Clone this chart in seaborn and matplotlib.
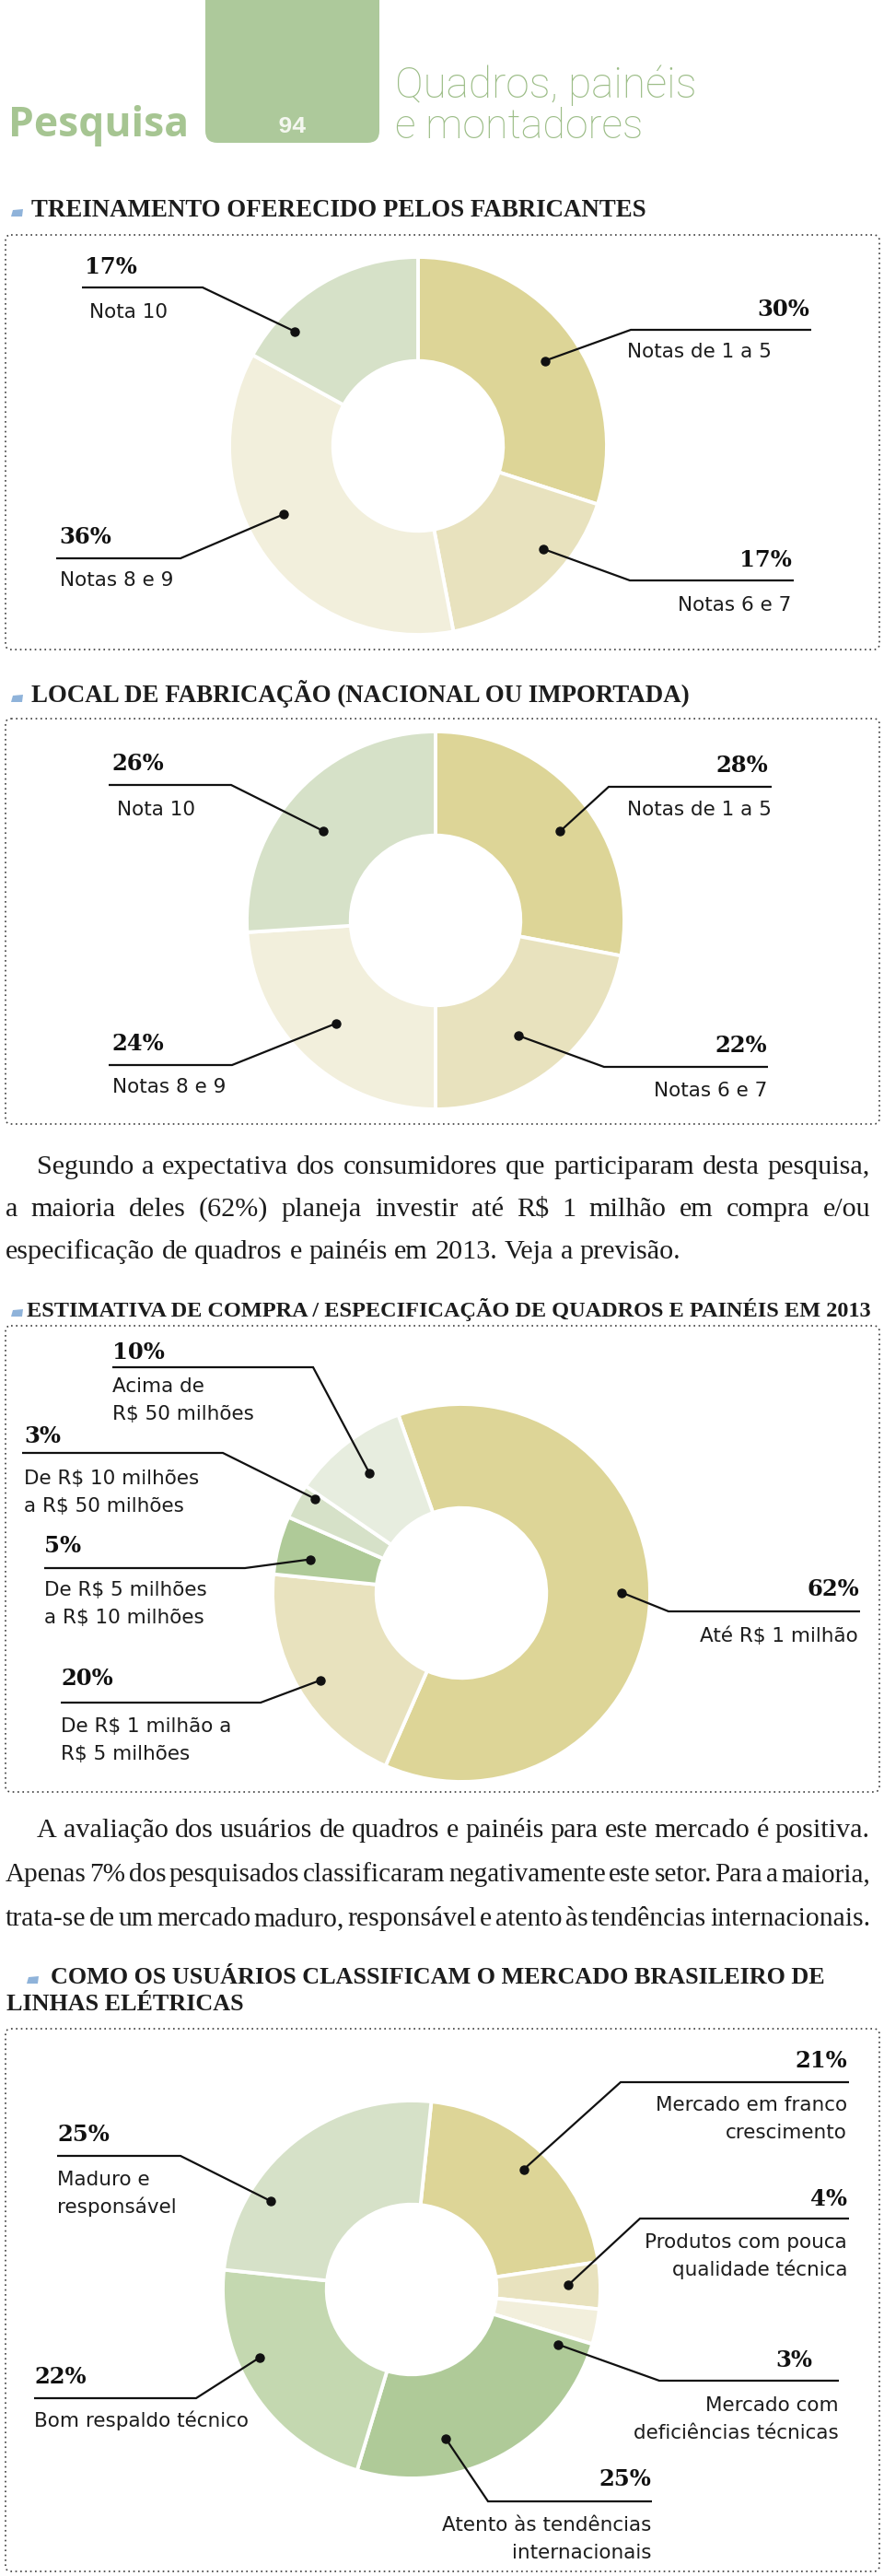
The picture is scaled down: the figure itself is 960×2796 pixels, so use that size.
import numpy as np
import matplotlib
matplotlib.use("Agg")
import matplotlib.pyplot as plt
import seaborn as sns
from matplotlib.patches import FancyBboxPatch, Polygon

sns.set_theme(style="white")
plt.rcParams['font.family'] = ['DejaVu Sans']

W, H = 960, 2796

# ------------------------------------------------------------------ data
header_left = "Pesquisa"
header_num = "94"
header_title = ["Quadros, painéis", "e montadores"]

title_train = "TREINAMENTO OFERECIDO PELOS FABRICANTES"
train_labels = ["Notas de 1 a 5", "Notas 6 e 7", "Notas 8 e 9", "Nota 10"]
train_values = [30, 17, 36, 17]

title_local = "LOCAL DE FABRICAÇÃO (NACIONAL OU IMPORTADA)"
local_labels = ["Notas de 1 a 5", "Notas 6 e 7", "Notas 8 e 9", "Nota 10"]
local_values = [28, 22, 24, 26]

para1 = ["Segundo a expectativa dos consumidores que participaram desta pesquisa,",
         "a maioria deles (62%) planeja investir até R$ 1 milhão em compra e/ou",
         "especificação de quadros e painéis em 2013. Veja a previsão."]

title_compra = "ESTIMATIVA DE COMPRA / ESPECIFICAÇÃO DE QUADROS E PAINÉIS EM 2013"
compra_labels = ["Até R$ 1 milhão", "De R$ 1 milhão a\nR$ 5 milhões",
                 "De R$ 5 milhões\na R$ 10 milhões", "De R$ 10 milhões\na R$ 50 milhões",
                 "Acima de\nR$ 50 milhões"]
compra_values = [62, 20, 5, 3, 10]

para2 = ["A avaliação dos usuários de quadros e painéis para este mercado é positiva.",
         "Apenas 7% dos pesquisados classificaram negativamente este setor. Para a maioria,",
         "trata-se de um mercado maduro, responsável e atento às tendências internacionais."]

title_mercado = ["COMO OS USUÁRIOS CLASSIFICAM O MERCADO BRASILEIRO DE", "LINHAS ELÉTRICAS"]
mercado_labels = ["Mercado em franco\ncrescimento", "Produtos com pouca\nqualidade técnica",
                  "Mercado com\ndeficiências técnicas", "Atento às tendências\ninternacionais",
                  "Bom respaldo técnico", "Maduro e\nresponsável"]
mercado_values = [21, 4, 3, 25, 22, 25]

# ------------------------------------------------------------------ style
KH_DARK, KH_MED, CREAM = "#DDD597", "#E8E2BE", "#F2EFDC"
SAGE, G_MED, G_LIGHT, G_PALE = "#D6E1C8", "#AFCA98", "#C4D8B0", "#E7EDDF"
HEAD_GREEN = "#A6C592"
TXT = "#1c1c1c"

train_colors = sns.color_palette([KH_DARK, KH_MED, CREAM, SAGE])
local_colors = sns.color_palette([KH_DARK, KH_MED, CREAM, SAGE])
compra_colors = sns.color_palette([KH_DARK, KH_MED, G_MED, SAGE, G_PALE])
mercado_colors = sns.color_palette([KH_DARK, KH_MED, CREAM, G_MED, G_LIGHT, SAGE])

fig = plt.figure(figsize=(W / 100, H / 100), dpi=100)
bg = fig.add_axes([0, 0, 1, 1])
bg.set_xlim(0, W); bg.set_ylim(H, 0); bg.axis('off')
renderer = fig.canvas.get_renderer()


def measure(s, **kw):
    t = bg.text(0, 0, s, **kw)
    w = t.get_window_extent(renderer=renderer).width
    t.remove()
    return w


def fit_text(ax, x, y, s, width, base=20, **kw):
    w = measure(s, fontsize=base, **kw)
    fs = base * width / w
    ax.text(x, y, s, fontsize=fs, va='baseline', ha='left', **kw)
    return fs


def justify(ax, lines, x_first, x_left, x_right, y0, dy, fs, last_just=False, **kw):
    for i, line in enumerate(lines):
        xs = x_first if i == 0 else x_left
        words = line.split(' ')
        target = x_right - xs
        size = fs
        widths = [measure(w, fontsize=size, **kw) for w in words]
        sp = measure('a a', fontsize=size, **kw) - measure('aa', fontsize=size, **kw)
        min_gap = 0.5 * sp
        natural = sum(widths) + min_gap * (len(words) - 1)
        if natural > target:
            size = size * target / natural
            widths = [measure(w, fontsize=size, **kw) for w in words]
            sp = measure('a a', fontsize=size, **kw) - measure('aa', fontsize=size, **kw)
        just = (i < len(lines) - 1) or last_just
        gap = (target - sum(widths)) / (len(words) - 1) if just else sp
        x = xs
        y = y0 + i * dy
        for w, wd in zip(words, widths):
            ax.text(x, y, w, fontsize=size, va='baseline', ha='left', **kw)
            x += wd + gap


def dotted_box(x0, y0, x1, y1):
    bg.add_patch(FancyBboxPatch((x0, y0), x1 - x0, y1 - y0,
                                boxstyle="round,pad=0,rounding_size=6", fill=False,
                                edgecolor='#3c3c3c', linewidth=1.2, linestyle=(0, (1, 2.2))))


def title_marker(x, y):
    bg.add_patch(Polygon([(x, y), (x + 2, y - 7), (x + 13, y - 8), (x + 12, y)],
                         closed=True, facecolor="#8FB3DA", edgecolor='none'))


SERIF_B = dict(family='Liberation Serif', fontweight='bold', color=TXT)
PARA = dict(family='Liberation Serif', color=TXT)

# ------------------------------------------------------------------ header
bg.add_patch(FancyBboxPatch((223, -40), 189, 195, boxstyle="round,pad=0,rounding_size=13",
                            facecolor="#ADC99B", edgecolor='none'))
fit_text(bg, 9, 148, header_left, 196, base=30, family='Open Sans', fontweight='bold', color=HEAD_GREEN)
bg.text(317, 144, header_num, fontsize=19, family='Liberation Mono', fontweight='bold',
        color='#F4F7F0', ha='center', va='baseline')
fit_text(bg, 429, 106, header_title[0], 327, base=26, family='Roboto', fontweight='light', color="#9CBD87")
fit_text(bg, 429, 150, header_title[1], 269, base=26, family='Roboto', fontweight='light', color="#9CBD87")

# ------------------------------------------------------------------ titles, paragraphs, boxes
title_marker(12, 235); fit_text(bg, 34, 235, title_train, 667, **SERIF_B)
dotted_box(6, 255, 955, 705)
title_marker(12, 762); fit_text(bg, 34, 762, title_local, 714, **SERIF_B)
dotted_box(6, 780, 955, 1220)
justify(bg, para1, 40, 6, 945, 1274, 46, 21.7, **PARA)
title_marker(12, 1429); fit_text(bg, 29, 1429, title_compra, 914, **SERIF_B)
dotted_box(6, 1439, 955, 1945)
justify(bg, para2, 40, 6, 945, 1994, 48, 21.7, last_just=True, **PARA)
title_marker(29, 2153)
fs4 = fit_text(bg, 55, 2153, title_mercado[0], 842, **SERIF_B)
bg.text(7, 2182, title_mercado[1], fontsize=fs4, va='baseline', ha='left', **SERIF_B)
dotted_box(6, 2202, 955, 2791)

# ------------------------------------------------------------------ donuts
R = 205
HOLE = 0.45


def donut(cx, cy, values, colors, start_cw):
    ax = fig.add_axes([(cx - R) / W, 1 - (cy + R) / H, 2 * R / W, 2 * R / H])
    wedges, _ = ax.pie(values, colors=colors, startangle=90 - start_cw, counterclock=False,
                       wedgeprops=dict(width=1 - HOLE, edgecolor='white', linewidth=2.8))
    ax.set_xlim(-1, 1); ax.set_ylim(-1, 1)
    ax.set_aspect('equal')
    return ax, wedges


charts = [
    (454, 484, train_values, train_labels, train_colors, 0, [
        # pct (x, y, ha), underline (x0, x1, y, elbow end), desc (x, y, ha), (frac, rad)
        ((879, 343, 'right'), (685, 881, 358, 0), (681, 388, 'left'), (.52, .81)),
        ((860, 615, 'right'), (684, 862, 630, 0), (859, 663, 'right'), (.35, .86)),
        ((64, 590, 'left'), (61, 196, 606, 1), (65, 636, 'left'), (.57, .80)),
        ((92, 297, 'left'), (89, 220, 312, 1), (97, 345, 'left'), (.23, .89)),
    ]),
    (473, 999, local_values, local_labels, local_colors, 0, [
        ((834, 838, 'right'), (661, 838, 854, 0), (838, 885, 'right'), (.54, .81)),
        ((833, 1142, 'right'), (656, 834, 1158, 0), (833, 1190, 'right'), (.55, .75)),
        ((121, 1140, 'left'), (118, 252, 1156, 1), (122, 1186, 'left'), (.51, .76)),
        ((121, 836, 'left'), (118, 251, 852, 1), (127, 885, 'left'), (.45, .76)),
    ]),
    (501, 1729, compra_values, compra_labels, compra_colors, -19.5, [
        ((933, 1732, 'right'), (726, 934, 1749, 0), (932, 1782, 'right'), (.49, .85)),
        ((66, 1829, 'left'), (66, 283, 1848, 1), (66, 1880, 'left'), (.48, .88)),
        ((48, 1685, 'left'), (48, 266, 1702, 1), (48, 1732, 'left'), (.38, .82)),
        ((26, 1566, 'left'), (24, 242, 1577, 1), (26, 1611, 'left'), (.84, .92)),
        ((122, 1475, 'left'), (122, 340, 1484, 1), (122, 1511, 'left'), (.50, .80)),
    ]),
    (447, 2485, mercado_values, mercado_labels, mercado_colors, 6, [
        ((920, 2244, 'right'), (674, 922, 2260, 0), (920, 2291, 'right'), (.49, .87)),
        ((920, 2394, 'right'), (695, 922, 2408, 0), (920, 2440, 'right'), (.47, .83)),
        ((882, 2569, 'right'), (716, 911, 2584, 0), (911, 2617, 'right'), (1.35, .83)),
        ((707, 2698, 'right'), (530, 708, 2715, 0), (707, 2747, 'right'), (.67, .81)),
        ((37, 2587, 'left'), (37, 213, 2603, 1), (37, 2634, 'left'), (.62, .88)),
        ((62, 2324, 'left'), (62, 196, 2340, 1), (62, 2372, 'left'), (.29, .88)),
    ]),
]

pie_axes = []
for cx, cy, vals, labs, cols, st, lay in charts:
    ax, wedges = donut(cx, cy, vals, cols, st)
    pie_axes.append((ax, wedges, vals, labs, lay))

ov = fig.add_axes([0, 0, 1, 1], facecolor='none')
ov.set_xlim(0, W); ov.set_ylim(H, 0); ov.axis('off')

PCT = dict(family='DejaVu Serif', fontweight='bold', fontsize=17.5, color='#111111')
DESC = dict(family='DejaVu Sans', fontsize=15.5, color=TXT)

for ax, wedges, vals, labs, lay in pie_axes:
    for w, v, lab, (pct, ul, desc, (frac, rad)) in zip(wedges, vals, labs, lay):
        a = np.deg2rad(w.theta2 - frac * (w.theta2 - w.theta1))
        disp = ax.transData.transform((rad * np.cos(a), rad * np.sin(a)))
        dx, dy = ov.transData.inverted().transform(disp)
        x0, x1, uy, side = ul
        ex = x1 if side == 1 else x0
        sx = x0 if side == 1 else x1
        ov.plot([sx, ex, dx], [uy, uy, dy], color='#111111', lw=1.6,
                solid_capstyle='butt', solid_joinstyle='miter')
        ov.plot([dx], [dy], 'o', color='#111111', ms=6.5)
        ov.text(pct[0], pct[1], f"{v}%", ha=pct[2], va='baseline', **PCT)
        for k, line in enumerate(lab.split('\n')):
            ov.text(desc[0], desc[1] + 30 * k, line, ha=desc[2], va='baseline', **DESC)

fig.savefig("out.png", dpi=100, facecolor='white')
